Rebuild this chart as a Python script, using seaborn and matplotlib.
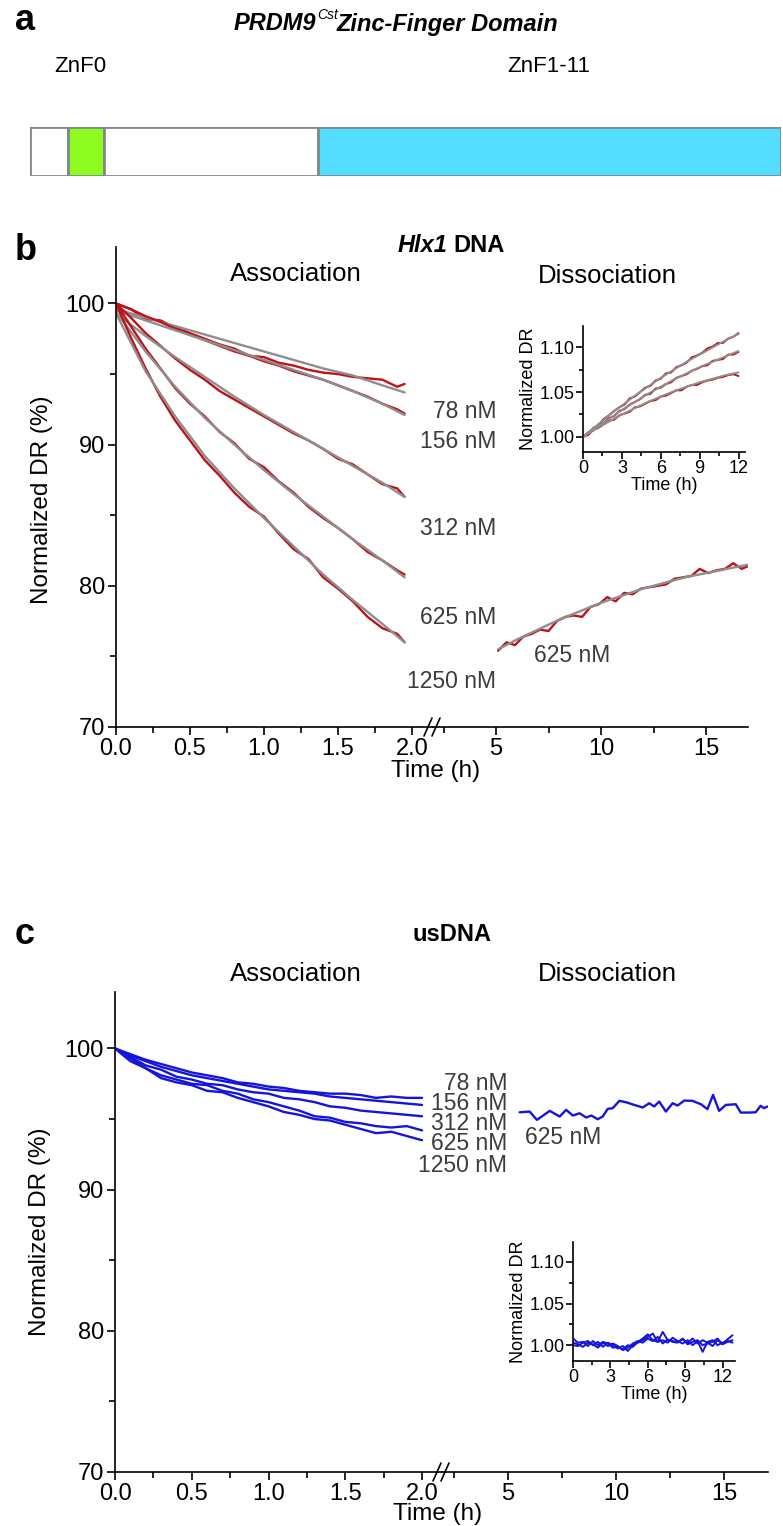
import matplotlib
matplotlib.use("Agg")
import matplotlib.pyplot as plt
import seaborn as sns
from matplotlib.lines import Line2D
from matplotlib.ticker import MultipleLocator, FormatStrFormatter

# ---------------- data ----------------

# panel a: zinc-finger domain map (segment lengths along the bar)
domain_lengths = [38, 36, 214, 462]
domain_colors = ["white", "#8dfc1e", "white", "#55ddff"]

conc_labels = ["78 nM", "156 nM", "312 nM", "625 nM", "1250 nM"]

# panel b: Hlx1 DNA association (red data, grey fits)
t_assoc_b = [0.0, 0.1, 0.2, 0.3, 0.4, 0.5, 0.6, 0.7, 0.8, 0.9, 1.0,
             1.1, 1.2, 1.3, 1.4, 1.5, 1.6, 1.7, 1.8, 1.9, 1.95]
hlx1_78 = [100.0, 99.6, 98.9, 98.8, 98.3, 97.9, 97.5, 97.1, 96.8, 96.3, 96.2,
           95.8, 95.6, 95.3, 95.1, 95.0, 94.8, 94.7, 94.6, 94.1, 94.3]
hlx1_156 = [100.0, 99.6, 99.1, 98.7, 98.2, 97.8, 97.4, 97.0, 96.6, 96.3, 95.9,
            95.6, 95.2, 94.9, 94.6, 94.2, 93.8, 93.4, 92.9, 92.5, 92.2]
hlx1_312 = [100.0, 99.0, 97.9, 97.0, 96.1, 95.3, 94.6, 93.8, 93.2, 92.6, 92.0,
            91.4, 90.8, 90.3, 89.7, 89.0, 88.6, 87.9, 87.2, 86.9, 86.3]
hlx1_625 = [100.0, 98.4, 96.8, 95.4, 94.0, 92.9, 92.0, 90.9, 90.1, 89.0, 88.4,
            87.4, 86.6, 85.6, 84.8, 84.1, 83.3, 82.4, 81.8, 81.1, 80.8]
hlx1_1250 = [100.0, 97.6, 95.4, 93.4, 91.7, 90.3, 88.9, 87.8, 86.6, 85.6, 84.9,
             83.7, 82.6, 81.9, 80.6, 79.8, 78.9, 77.8, 77.0, 76.6, 76.0]

t_fit_b = [0.0, 0.2, 0.4, 0.6, 0.8, 1.0, 1.2, 1.4, 1.6, 1.8, 1.95]
fit_78 = [99.6, 99.0, 98.4, 97.8, 97.2, 96.6, 96.0, 95.4, 94.9, 94.2, 93.7]
fit_156 = [99.5, 98.8, 98.1, 97.4, 96.7, 96.0, 95.3, 94.6, 93.8, 92.9, 92.1]
fit_312 = [99.3, 97.7, 96.2, 94.8, 93.4, 92.1, 90.9, 89.7, 88.5, 87.3, 86.3]
fit_625 = [99.4, 96.6, 94.1, 91.9, 90.0, 88.2, 86.5, 84.9, 83.3, 81.8, 80.6]
fit_1250 = [99.3, 95.2, 92.0, 89.2, 86.9, 84.8, 82.8, 80.8, 79.0, 77.3, 76.0]

# panel b: dissociation (625 nM)
t_diss_b = [5.1, 5.5, 5.9, 6.3, 6.7, 7.1, 7.5, 7.9, 8.3, 8.7, 9.1, 9.5, 9.9,
            10.3, 10.7, 11.1, 11.5, 11.9, 12.3, 12.7, 13.1, 13.5, 13.9, 14.3,
            14.7, 15.1, 15.5, 15.9, 16.3, 16.7, 17.0]
hlx1_diss = [75.4, 76.0, 75.8, 76.4, 76.6, 76.9, 76.8, 77.5, 77.8, 77.9, 77.8,
             78.5, 78.7, 79.2, 78.9, 79.5, 79.4, 79.8, 79.9, 80.0, 80.1, 80.5,
             80.6, 80.7, 81.2, 80.9, 81.1, 81.2, 81.6, 81.2, 81.4]
t_fit_diss_b = [5.1, 6, 7, 8, 9, 10, 11, 12, 13, 14, 15, 16, 17]
fit_diss_b = [75.5, 76.2, 76.9, 77.6, 78.2, 78.8, 79.3, 79.8, 80.2, 80.6,
              80.9, 81.2, 81.5]

# panel b inset: normalized dissociation
t_ins_b = [0.0, 0.4, 0.8, 1.2, 1.6, 2.0, 2.4, 2.8, 3.2, 3.6, 4.0, 4.4, 4.8,
           5.2, 5.6, 6.0, 6.4, 6.8, 7.2, 7.6, 8.0, 8.4, 8.8, 9.2, 9.6, 10.0,
           10.4, 10.8, 11.2, 11.6, 12.0]
ins_b_top = [1.000, 1.004, 1.010, 1.013, 1.020, 1.024, 1.029, 1.033, 1.036,
             1.043, 1.045, 1.050, 1.055, 1.057, 1.063, 1.065, 1.071, 1.072,
             1.078, 1.080, 1.083, 1.089, 1.091, 1.094, 1.099, 1.101, 1.105,
             1.105, 1.110, 1.112, 1.116]
ins_b_mid = [1.000, 1.005, 1.007, 1.012, 1.016, 1.021, 1.023, 1.029, 1.031,
             1.036, 1.039, 1.042, 1.047, 1.048, 1.054, 1.055, 1.059, 1.061,
             1.066, 1.068, 1.070, 1.074, 1.076, 1.079, 1.080, 1.085, 1.086,
             1.087, 1.092, 1.092, 1.095]
ins_b_bot = [1.000, 1.002, 1.008, 1.010, 1.014, 1.018, 1.019, 1.024, 1.026,
             1.028, 1.033, 1.034, 1.037, 1.040, 1.041, 1.045, 1.046, 1.049,
             1.052, 1.052, 1.056, 1.058, 1.058, 1.061, 1.063, 1.064, 1.066,
             1.067, 1.069, 1.070, 1.068]
t_fit_ins_b = [0, 1, 2, 3, 4, 5, 6, 7, 8, 9, 10, 11, 12]
fit_ins_top = [1.000, 1.012, 1.024, 1.035, 1.046, 1.056, 1.066, 1.075, 1.084,
               1.092, 1.100, 1.108, 1.115]
fit_ins_mid = [1.000, 1.010, 1.020, 1.030, 1.039, 1.048, 1.056, 1.064, 1.071,
               1.078, 1.084, 1.090, 1.096]
fit_ins_bot = [1.000, 1.009, 1.017, 1.025, 1.032, 1.039, 1.045, 1.051, 1.056,
               1.061, 1.065, 1.069, 1.072]

# panel c: usDNA association
t_assoc_c = [0.0, 0.1, 0.2, 0.3, 0.4, 0.5, 0.6, 0.7, 0.8, 0.9, 1.0,
             1.1, 1.2, 1.3, 1.4, 1.5, 1.6, 1.7, 1.8, 1.9, 2.0]
us_78 = [100.0, 99.6, 99.2, 98.9, 98.6, 98.3, 98.1, 97.9, 97.6, 97.5, 97.3,
         97.2, 97.0, 96.9, 96.8, 96.8, 96.7, 96.5, 96.6, 96.5, 96.5]
us_156 = [100.0, 99.5, 99.1, 98.7, 98.4, 98.1, 97.9, 97.7, 97.5, 97.3, 97.1,
          97.0, 96.9, 96.8, 96.6, 96.5, 96.4, 96.3, 96.2, 96.1, 96.0]
us_312 = [100.0, 99.4, 98.8, 98.5, 98.0, 97.8, 97.5, 97.4, 97.1, 96.9, 96.8,
          96.5, 96.4, 96.2, 95.9, 95.8, 95.6, 95.5, 95.4, 95.3, 95.2]
us_625 = [100.0, 99.3, 98.6, 98.1, 97.8, 97.5, 97.4, 97.0, 96.8, 96.4, 96.2,
          95.9, 95.6, 95.2, 95.1, 94.8, 94.7, 94.5, 94.4, 94.5, 94.2]
us_1250 = [100.0, 99.1, 98.6, 97.9, 97.6, 97.4, 97.0, 96.9, 96.5, 96.2, 95.9,
           95.5, 95.3, 95.0, 94.9, 94.6, 94.3, 94.0, 94.1, 93.8, 93.5]

# panel c: dissociation (625 nM)
t_diss_c = [5.55, 6.01, 6.35, 6.94, 7.40, 7.70, 8.01, 8.32, 8.62, 8.86, 9.16,
            9.39, 9.62, 9.85, 10.16, 10.47, 10.85, 11.24, 11.54, 11.77, 12.0,
            12.31, 12.62, 12.85, 13.16, 13.54, 13.93, 14.23, 14.49, 14.77,
            15.08, 15.54, 15.77, 16.15, 16.46, 16.69, 16.84, 17.0]
us_diss = [95.48, 95.53, 94.94, 95.58, 95.18, 95.65, 95.25, 95.41, 95.11,
           95.25, 94.99, 95.18, 95.72, 95.77, 96.29, 96.19, 96.0, 95.82, 96.12,
           95.89, 96.24, 95.53, 96.12, 95.96, 96.31, 96.29, 96.05, 95.7, 96.71,
           95.58, 96.0, 96.05, 95.46, 95.46, 95.48, 95.94, 95.77, 95.89]

# panel c inset: normalized dissociation
t_ins_c = [0.0, 0.4, 0.8, 1.2, 1.6, 2.0, 2.4, 2.8, 3.2, 3.6, 4.0, 4.4, 4.8,
           5.2, 5.6, 6.0, 6.4, 6.8, 7.2, 7.6, 8.0, 8.4, 8.8, 9.2, 9.6, 10.0,
           10.4, 10.8, 11.2, 11.6, 12.0, 12.4, 12.8]
ins_c_1 = [1.008, 1.003, 1.004, 0.999, 1.005, 1.000, 1.004, 1.002, 0.997,
           0.998, 0.995, 1.000, 0.998, 1.004, 1.008, 1.013, 1.006, 1.004,
           1.016, 1.006, 1.005, 1.004, 1.007, 1.003, 1.008, 1.002, 1.006,
           1.003, 0.999, 1.006, 1.002, 1.007, 1.012]
ins_c_2 = [1.000, 0.999, 1.003, 1.005, 1.000, 1.004, 0.998, 1.003, 1.000,
           0.996, 0.999, 0.993, 1.000, 1.003, 1.006, 1.010, 1.014, 1.004,
           1.006, 1.003, 1.009, 1.005, 1.002, 1.006, 1.000, 1.005, 0.992,
           1.004, 1.006, 1.000, 1.003, 1.005, 1.003]
ins_c_3 = [1.003, 1.001, 0.998, 1.003, 1.001, 0.997, 1.003, 0.999, 1.002,
           0.999, 0.994, 0.997, 1.002, 1.005, 1.003, 1.008, 1.005, 1.010,
           1.002, 1.007, 1.004, 1.003, 1.008, 1.001, 1.004, 1.006, 1.000,
           1.002, 1.004, 1.008, 1.001, 1.004, 1.006]

# ---------------- style ----------------
RED = "#bf1218"
GREY = "#8e8e8e"
BLUE = "#1414dc"
LABEL_GREY = "#3c3c3c"

sns.set_style("ticks")
plt.rcParams["font.family"] = ["Liberation Sans", "DejaVu Sans"]
plt.rcParams.update({
    "axes.linewidth": 1.2,
    "axes.edgecolor": "black",
    "text.color": "black",
    "axes.labelcolor": "black",
    "xtick.color": "black",
    "ytick.color": "black",
})

W, H = 783, 1526
fig = plt.figure(figsize=(W / 100, H / 100), dpi=100)


def rect(x0, y0, x1, y1):
    return [x0 / W, 1 - y1 / H, (x1 - x0) / W, (y1 - y0) / H]


def put(x, y, s, **kw):
    kw.setdefault("ha", "center")
    kw.setdefault("va", "center")
    fig.text(x / W, 1 - y / H, s, **kw)


def line(ax, x, y, color, lw=1.7):
    sns.lineplot(x=x, y=y, ax=ax, color=color, lw=lw, estimator=None,
                 sort=False, legend=False)


def broken_axes(x0, xb, x1, ytop, ybot, left_lim, right_lim):
    axl = fig.add_axes(rect(x0, ytop, xb, ybot))
    axr = fig.add_axes(rect(xb, ytop, x1, ybot))
    for ax in (axl, axr):
        ax.set_facecolor("none")
        ax.set_ylim(70, 104)
        sns.despine(ax=ax)
        ax.tick_params(which="major", length=6, width=1.2, labelsize=17,
                       pad=2)
        ax.tick_params(which="minor", length=4, width=1.2)
    axl.set_xlim(*left_lim)
    axr.set_xlim(*right_lim)
    axl.xaxis.set_major_locator(MultipleLocator(0.5))
    axl.xaxis.set_minor_locator(MultipleLocator(0.25))
    axl.xaxis.set_major_formatter(FormatStrFormatter("%.1f"))
    axl.yaxis.set_major_locator(MultipleLocator(10))
    axl.yaxis.set_minor_locator(MultipleLocator(5))
    axr.xaxis.set_major_locator(MultipleLocator(5))
    axr.xaxis.set_minor_locator(MultipleLocator(2.5))
    axr.spines["left"].set_visible(False)
    axr.tick_params(axis="y", which="both", left=False, labelleft=False)
    for ax in (axl, axr):
        ax.set_xlabel("")
        ax.set_ylabel("")
    # break mark on the time axis
    for dx in (-5, 3):
        fig.add_artist(Line2D([(xb + dx - 4) / W, (xb + dx + 4) / W],
                              [1 - (ybot + 9) / H, 1 - (ybot - 9) / H],
                              color="black", lw=1.2))
    return axl, axr


def inset(x0, y0, x1, y1, xlim, ylim):
    ax = fig.add_axes(rect(x0, y0, x1, y1))
    ax.set_facecolor("none")
    sns.despine(ax=ax)
    ax.set_xlim(*xlim)
    ax.set_ylim(*ylim)
    ax.xaxis.set_major_locator(MultipleLocator(3))
    ax.xaxis.set_minor_locator(MultipleLocator(1.5))
    ax.yaxis.set_major_locator(MultipleLocator(0.05))
    ax.yaxis.set_minor_locator(MultipleLocator(0.025))
    ax.yaxis.set_major_formatter(FormatStrFormatter("%.2f"))
    ax.tick_params(which="major", length=5, width=1.2, labelsize=13, pad=1)
    ax.tick_params(which="minor", length=3, width=1.2)
    ax.set_xlabel("Time (h)", fontsize=13, labelpad=0)
    ax.set_ylabel("Normalized DR", fontsize=13, labelpad=2)
    return ax


# ---------------- panel a ----------------
put(15, 20, "a", fontsize=26, fontweight="bold", ha="left")
put(316, 24, "PRDM9", fontsize=17, fontweight="bold", fontstyle="italic",
    ha="right")
put(317, 15, "Cst", fontsize=10, fontstyle="italic", ha="left")
put(337, 24, "Zinc-Finger Domain", fontsize=17, fontweight="bold",
    fontstyle="italic", ha="left")
put(80, 66, "ZnF0", fontsize=16)
put(549, 66, "ZnF1-11", fontsize=16)

ax_a = fig.add_axes(rect(30, 127, 781, 176))
left = 0
for length, col in zip(domain_lengths, domain_colors):
    ax_a.barh(0, length, left=left, height=1, color=col,
              edgecolor="#7f8b8b", lw=2)
    left += length
ax_a.set_xlim(0, sum(domain_lengths))
ax_a.set_ylim(-0.5, 0.5)
ax_a.axis("off")

# ---------------- panel b ----------------
put(15, 250, "b", fontsize=26, fontweight="bold", ha="left")
put(447, 246, "Hlx1", fontsize=17, fontweight="bold", fontstyle="italic",
    ha="right")
put(453, 246, "DNA", fontsize=17, fontweight="bold", ha="left")
put(296, 274, "Association", fontsize=18.5)
put(607, 276, "Dissociation", fontsize=18.5)

bl, br = broken_axes(116, 433, 748, 247, 727, (0, 2.142), (2.0, 17.0))
for data, fit in zip([hlx1_78, hlx1_156, hlx1_312, hlx1_625, hlx1_1250],
                     [fit_78, fit_156, fit_312, fit_625, fit_1250]):
    line(bl, t_assoc_b, data, RED)
    line(bl, t_fit_b, fit, GREY)
line(br, t_diss_b, hlx1_diss, RED)
line(br, t_fit_diss_b, fit_diss_b, GREY)

for lab, y in zip(conc_labels, [412, 441, 528, 617, 682]):
    put(496, y, lab, fontsize=16.5, color=LABEL_GREY, ha="right")
put(572, 655, "625 nM", fontsize=16.5, color=LABEL_GREY)
put(42, 500, "Normalized DR (%)", fontsize=17.5, rotation=90)
put(436, 771, "Time (h)", fontsize=17.5)

ib = inset(583, 326, 745, 452, (0, 12.5), (0.983, 1.124))
for data in (ins_b_top, ins_b_mid, ins_b_bot):
    line(ib, t_ins_b, data, RED, lw=1.4)
for fit in (fit_ins_top, fit_ins_mid, fit_ins_bot):
    line(ib, t_fit_ins_b, fit, GREY, lw=1.4)

# ---------------- panel c ----------------
put(15, 934, "c", fontsize=26, fontweight="bold", ha="left")
put(452, 934, "usDNA", fontsize=17, fontweight="bold")
put(296, 974, "Association", fontsize=18.5)
put(607, 974, "Dissociation", fontsize=18.5)

cl, cr = broken_axes(115, 442, 768, 992, 1472, (0, 2.13), (1.96, 17.03))
for data in (us_78, us_156, us_312, us_625, us_1250):
    line(cl, t_assoc_c, data, BLUE)
line(cr, t_diss_c, us_diss, BLUE)

for lab, y in zip(conc_labels, [1084, 1104, 1124, 1144, 1166]):
    put(507, y, lab, fontsize=16.5, color=LABEL_GREY, ha="right")
put(563, 1138, "625 nM", fontsize=16.5, color=LABEL_GREY)
put(40, 1232, "Normalized DR (%)", fontsize=17.5, rotation=90)
put(438, 1514, "Time (h)", fontsize=17.5)

ic = inset(573, 1242, 735, 1361, (0, 13), (0.981, 1.124))
for data in (ins_c_1, ins_c_2, ins_c_3):
    line(ic, t_ins_c, data, BLUE, lw=1.4)

fig.savefig("out.png", dpi=100)
